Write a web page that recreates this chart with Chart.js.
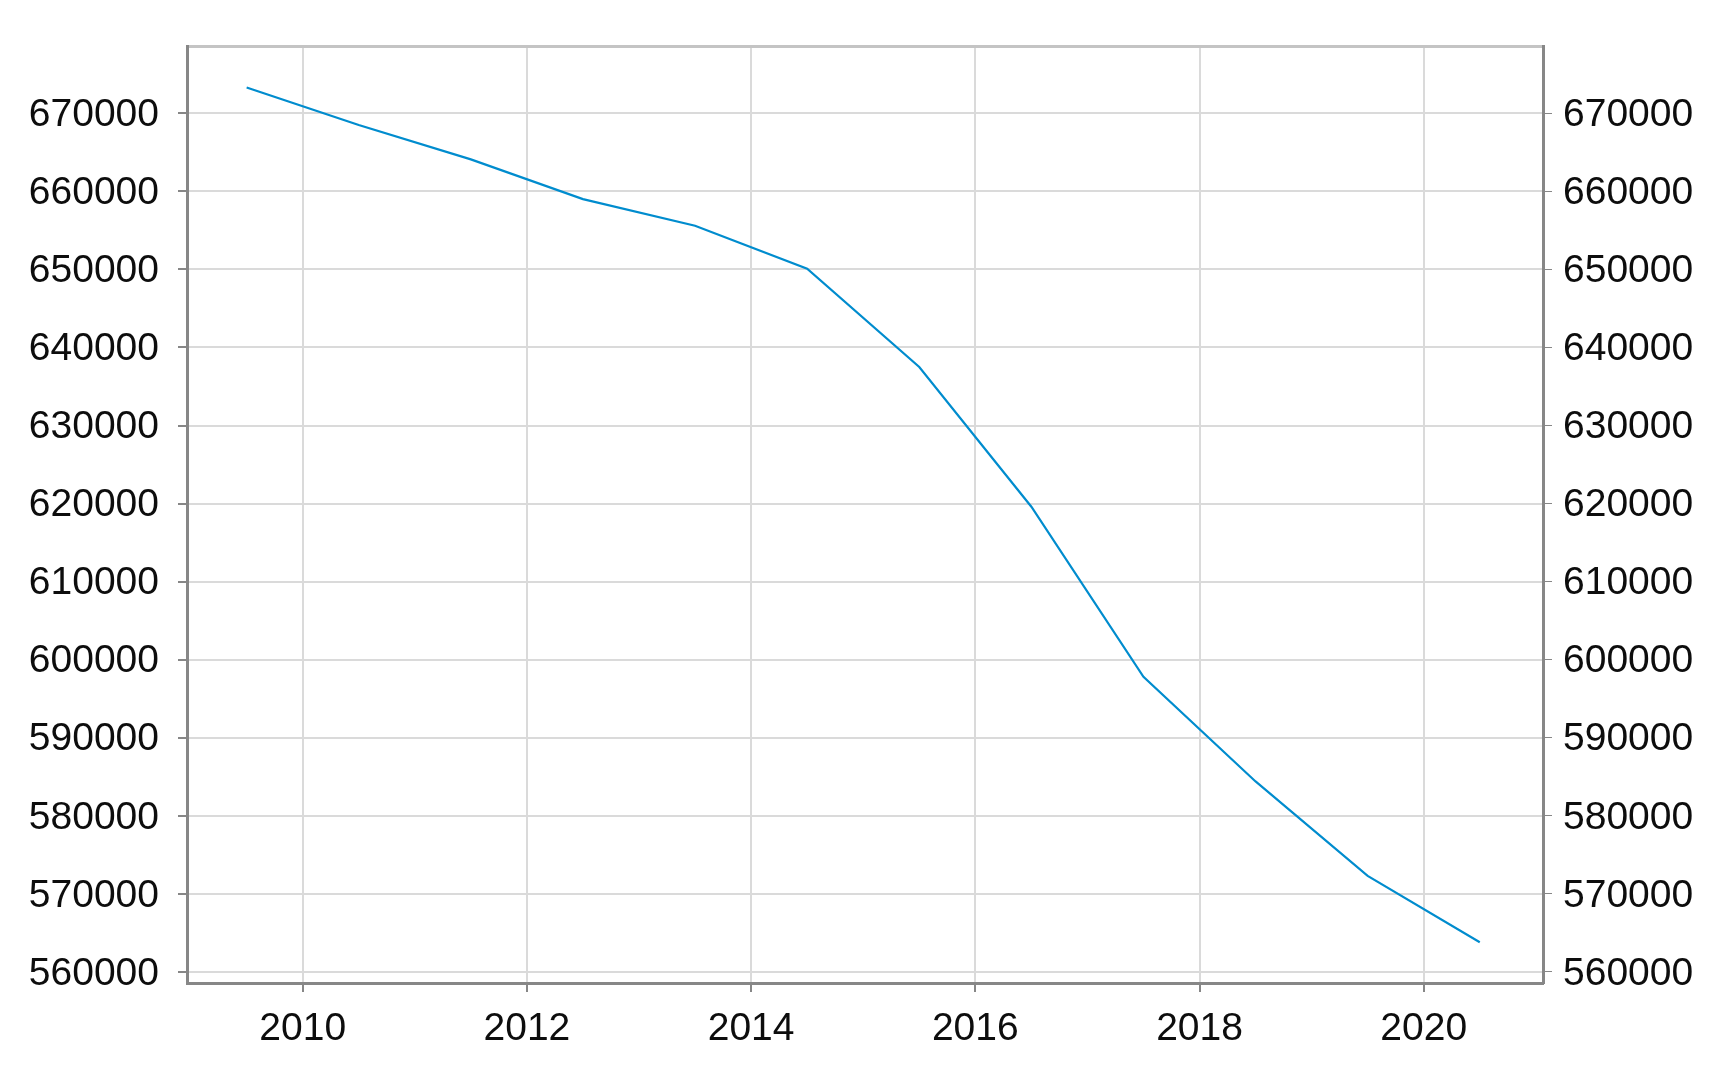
<!DOCTYPE html>
<html>
<head>
<meta charset="utf-8">
<script src="https://cdn.jsdelivr.net/npm/chart.js@4/dist/chart.umd.min.js"></script>
<style>
    html, body { margin: 0; padding: 0; background: #ffffff; }
    canvas { display: block; }
</style>
</head>
<body>
<canvas id="population-chart" width="1714" height="1066"></canvas>
<script>
// Data (values plotted at mid-year)
const years = [2009.5, 2010.5, 2011.5, 2012.5, 2013.5, 2014.5, 2015.5, 2016.5, 2017.5, 2018.5, 2019.5, 2020.5];
const population = [673300, 668500, 664100, 659000, 655600, 650100, 637500, 619600, 597800, 584400, 572300, 563800];

// Axis ranges and tick labels
const xRange = [2008.968, 2021.064];
const xTicks = [2010, 2012, 2014, 2016, 2018, 2020];
const yRange = [558580, 678620];
const yTicks = [560000, 570000, 580000, 590000, 600000, 610000, 620000, 630000, 640000, 650000, 660000, 670000];

document.addEventListener('DOMContentLoaded', function() {
    const ctx = document.getElementById('population-chart').getContext('2d');

    const gridColor = '#dadada';
    const axisColor = '#878787';
    const labelFont = { family: '"Liberation Sans", Arial, sans-serif', size: 39 };

    const plain = function(value) { return String(value); };
    const useTicks = function(list) {
        return function(scale) { scale.ticks = list.map(v => ({ value: v })); };
    };

    new Chart(ctx, {
        type: 'line',
        data: {
            datasets: [{
                data: years.map((y, i) => ({ x: y, y: population[i] })),
                borderColor: 'rgb(0, 140, 206)',
                borderWidth: 2.2,
                pointRadius: 0,
                tension: 0,
                fill: false,
                yAxisID: 'y'
            }]
        },
        options: {
            responsive: false,
            animation: false,
            layout: { padding: 0 },
            plugins: {
                legend: { display: false },
                tooltip: { enabled: false }
            },
            scales: {
                x: {
                    type: 'linear',
                    position: 'bottom',
                    min: xRange[0],
                    max: xRange[1],
                    afterBuildTicks: useTicks(xTicks),
                    afterFit: function(scale) { scale.height = 83; },
                    ticks: {
                        callback: plain,
                        color: '#0d0d0d',
                        font: labelFont,
                        padding: 14,
                        maxRotation: 0,
                        autoSkip: false
                    },
                    grid: { color: gridColor, lineWidth: 2, tickColor: axisColor, tickLength: 9 },
                    border: { color: axisColor, width: 3 }
                },
                xTop: {
                    type: 'linear',
                    position: 'top',
                    min: xRange[0],
                    max: xRange[1],
                    afterFit: function(scale) { scale.height = 46; },
                    ticks: { display: false },
                    grid: { drawOnChartArea: false, drawTicks: false },
                    border: { color: '#c4c4c4', width: 3 }
                },
                y: {
                    type: 'linear',
                    position: 'left',
                    min: yRange[0],
                    max: yRange[1],
                    afterBuildTicks: useTicks(yTicks),
                    afterFit: function(scale) { scale.width = 187; },
                    ticks: {
                        callback: plain,
                        color: '#0d0d0d',
                        font: labelFont,
                        padding: 19,
                        labelOffset: 2,
                        autoSkip: false
                    },
                    grid: { color: gridColor, lineWidth: 2, tickColor: axisColor, tickLength: 9 },
                    border: { color: axisColor, width: 3 }
                },
                y2: {
                    type: 'linear',
                    position: 'right',
                    min: yRange[0],
                    max: yRange[1],
                    afterBuildTicks: useTicks(yTicks),
                    afterFit: function(scale) { scale.width = 171; },
                    ticks: {
                        callback: plain,
                        color: '#0d0d0d',
                        font: labelFont,
                        padding: 11,
                        labelOffset: 2,
                        autoSkip: false
                    },
                    grid: { drawOnChartArea: false, tickColor: axisColor, tickLength: 9 },
                    border: { color: axisColor, width: 3 }
                }
            }
        }
    });
});
</script>
</body>
</html>
